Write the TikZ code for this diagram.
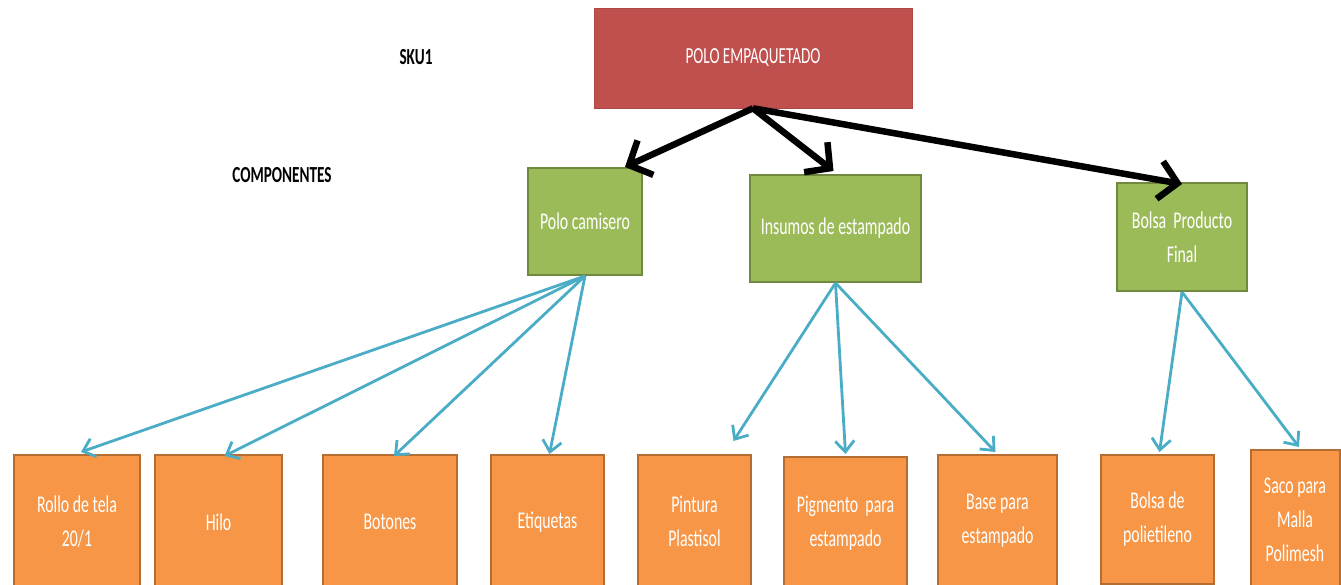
\documentclass[tikz,border=0pt]{standalone}
\usepackage{fontspec}
\setmainfont{Carlito}[FakeStretch=0.66]
\usetikzlibrary{arrows.meta}

\definecolor{boxred}{HTML}{C0504D}
\definecolor{boxgreen}{HTML}{9BBB59}
\definecolor{greenedge}{HTML}{71893F}
\definecolor{boxorange}{HTML}{F79646}
\definecolor{orangeedge}{HTML}{B66D31}
\definecolor{linkblue}{HTML}{4BACC6}

\begin{document}
\begin{tikzpicture}[x=1pt,y=-1pt,
  topbox/.style={fill=boxred, draw=boxred!90!black, line width=0.6pt, text=white,
    font=\fontsize{23}{30}\selectfont, minimum width=318pt, minimum height=100pt, inner sep=0pt},
  groupbox/.style={fill=boxgreen, draw=greenedge, line width=2pt, text=white, align=center,
    font=\fontsize{24}{34}\selectfont, inner sep=0pt},
  partbox/.style={fill=boxorange, draw=orangeedge, line width=2pt, text=white, align=center,
    font=\fontsize{24}{34}\selectfont, inner sep=0pt},
  heading/.style={font=\bfseries\fontsize{23}{26}\selectfont, text=black, inner sep=0pt},
  mainlink/.style={line width=6.5pt, draw=black, -{Straight Barb[length=18pt,width=38pt]}},
  sublink/.style={line width=2.8pt, draw=linkblue, -{Straight Barb[length=11pt,width=19pt]}},
]
\useasboundingbox (0,0) rectangle (1341,585);
\clip (0,0) rectangle (1341,585);

% side headings
\node[heading] (sku) at (416,57) {SKU1};
\node[heading] (comp) at (282,175) {COMPONENTES};

% finished product
\node[topbox] (polo) at (753,58) {POLO EMPAQUETADO};

% components
\node[groupbox, minimum width=114pt, minimum height=107pt] (camisero) at (585,221.5) {Polo camisero};
\node[groupbox, minimum width=171pt, minimum height=107pt] (insumos) at (835.5,228.5) {Insumos de estampado};
\node[groupbox, minimum width=130pt, minimum height=108pt] (bolsa) at (1182,237) {Bolsa\ \ Producto\\Final};

% raw materials (boxes run past the lower edge)
\node[partbox, minimum width=126pt, minimum height=134pt] (rollo) at (77,522) {Rollo de tela\\20/1};
\node[partbox, minimum width=127pt, minimum height=134pt] (hilo) at (218.5,522) {Hilo};
\node[partbox, minimum width=134pt, minimum height=134pt] (botones) at (390,522) {Botones};
\node[partbox, minimum width=113pt, minimum height=134pt] (etiquetas) at (547.5,522) {Etiquetas};
\node[partbox, minimum width=113pt, minimum height=133pt] (pintura) at (694.5,521.5) {Pintura\\Plastisol};
\node[partbox, minimum width=123pt, minimum height=133pt] (pigmento) at (845.5,523.5) {Pigmento\ \ para\\estampado};
\node[partbox, minimum width=119pt, minimum height=132pt] (base) at (997.5,521) {Base para\\estampado};
\node[partbox, minimum width=113pt, minimum height=129pt] (polietileno) at (1157.5,519.5) {Bolsa de\\polietileno};
\node[partbox, minimum width=89pt, minimum height=140pt] (saco) at (1295,520) {Saco para\\Malla\\Polimesh};

% product to components
\draw[mainlink] (polo.south) -- ([xshift=40pt]camisero.north);
\draw[mainlink] (polo.south) -- ([xshift=-2pt,yshift=3pt]insumos.north);
\draw[mainlink] (polo.south) -- ([yshift=-2pt]bolsa.north);

% components to raw materials
\draw[sublink] (camisero.south) -- ([xshift=4pt,yshift=2pt]rollo.north);
\draw[sublink] (camisero.south) -- ([xshift=6pt,yshift=-2pt]hilo.north);
\draw[sublink] (camisero.south) -- ([xshift=4pt,yshift=-2pt]botones.north);
\draw[sublink] (camisero.south) -- ([xshift=2pt]etiquetas.north);

\draw[sublink] (insumos.south) -- ([xshift=39pt,yshift=13pt]pintura.north);
\draw[sublink] (insumos.south) -- ([yshift=2pt]pigmento.north);
\draw[sublink] (insumos.south) -- ([xshift=-2pt,yshift=2pt]base.north);

\draw[sublink] (bolsa.south) -- ([xshift=2pt,yshift=2pt]polietileno.north);
\draw[sublink] (bolsa.south) -- ([xshift=4pt,yshift=2pt]saco.north);
\end{tikzpicture}
\end{document}
